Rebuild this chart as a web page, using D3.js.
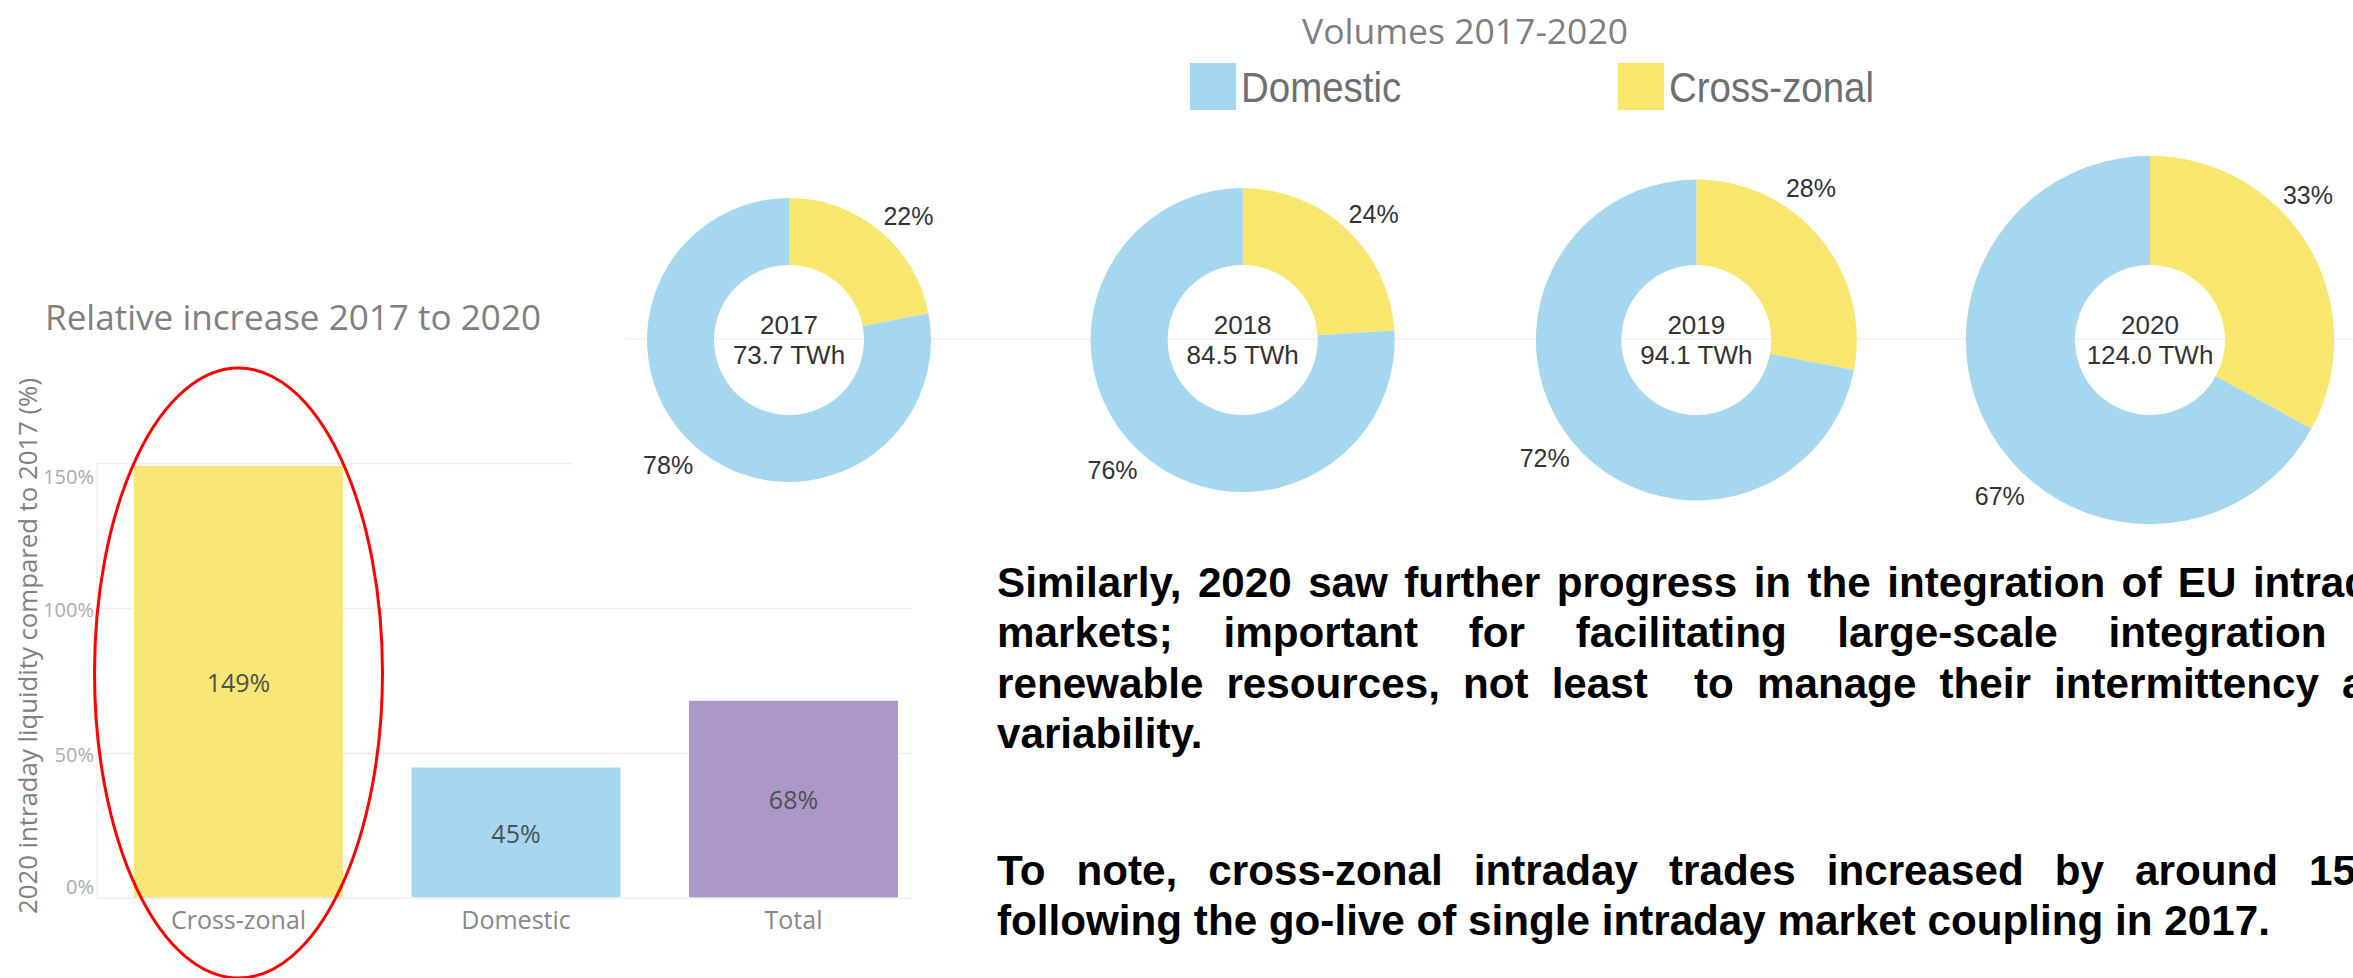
<!DOCTYPE html>
<html>
<head>
<meta charset="utf-8">
<script src="https://cdn.jsdelivr.net/npm/d3@7"></script>
<style>
  html, body { margin: 0; padding: 0; background: #fff; overflow: hidden; }
  svg { display: block; }
</style>
</head>
<body>
<svg id="chart" width="2353" height="978"></svg>
<script>
// ---- Relative increase of 2020 intraday liquidity compared to 2017 ----
const barCategories = ["Cross-zonal", "Domestic", "Total"];
const barValues = [149, 45, 68];
const barColors = ["#f8e776", "#a5d8f0", "#ac98c8"];
const yTickValues = [0, 50, 100, 150];

// ---- Intraday volumes per year and their split ----
const years = ["2017", "2018", "2019", "2020"];
const volumesTWh = [73.7, 84.5, 94.1, 124.0];
const crossZonalShare = [22, 24, 28, 33];
const domesticShare = [78, 76, 72, 67];
const seriesNames = ["Domestic", "Cross-zonal"];
const seriesColors = ["#a5d8f0", "#f8e66f"];

// ---- Commentary ----
const paragraph1 = [
  "Similarly, 2020 saw further progress in the integration of EU intraday",
  "markets; important for facilitating large-scale integration of",
  "renewable resources, not least  to manage their intermittency and",
  "variability."
];
const paragraph2 = [
  "To note, cross-zonal intraday trades increased by around 150%",
  "following the go-live of single intraday market coupling in 2017."
];

// label placement around each ring (degrees clockwise from 12 o'clock)
const crossLabelAngle = [44, 46, 37, 47.5];
const domesticLabelAngle = [224, 225, 232, 224];

const svg = d3.select("#chart");
const tableauFont = "'Open Sans', sans-serif";
const arialFont = "'Liberation Sans', Arial, sans-serif";

// =================== Bar chart ===================
const plotLeft = 97, plotBottom = 898, gridRight = 912;
const y = d3.scaleLinear().domain([0, 150]).range([plotBottom, 463]);
const x = d3.scaleBand().domain(barCategories).range([plotLeft, 935])
  .paddingInner(0.2468).paddingOuter(0.1333);

const bars = svg.append("g").attr("class", "bar-chart");

// gridlines
bars.append("g")
  .attr("transform", `translate(${plotLeft},0)`)
  .call(d3.axisLeft(y).tickValues(yTickValues).tickSize(-(gridRight - plotLeft)).tickFormat(""))
  .call(g => g.select(".domain").remove())
  .call(g => g.selectAll(".tick line").attr("stroke", "#eeeeee").attr("stroke-width", 1.5));

// faint vertical axis line
bars.append("line")
  .attr("x1", plotLeft).attr("x2", plotLeft)
  .attr("y1", y(150)).attr("y2", plotBottom)
  .attr("stroke", "#f0f0f0").attr("stroke-width", 1.5);

// y tick labels (edge labels are kept inside the plot range)
bars.append("g")
  .attr("transform", `translate(${plotLeft - 3},0)`)
  .call(d3.axisLeft(y).tickValues(yTickValues).tickSize(0).tickPadding(0).tickFormat(d => d + "%"))
  .call(g => g.select(".domain").remove())
  .call(g => g.selectAll("text")
    .attr("font-family", tableauFont).attr("font-size", 20).attr("fill", "#ababab")
    .attr("dy", null).attr("dominant-baseline", "central")
    .attr("y", d => d === 150 ? 13 : d === 0 ? -12 : 1));

// bars
bars.selectAll("rect.bar")
  .data(barCategories)
  .join("rect")
  .attr("class", "bar")
  .attr("x", d => x(d))
  .attr("width", x.bandwidth())
  .attr("y", (d, i) => y(barValues[i]))
  .attr("height", (d, i) => plotBottom - y(barValues[i]))
  .attr("fill", (d, i) => barColors[i]);

// value labels
bars.selectAll("text.value")
  .data(barCategories)
  .join("text")
  .attr("class", "value")
  .attr("x", d => x(d) + x.bandwidth() / 2)
  .attr("y", (d, i) => (y(barValues[i]) + plotBottom) / 2)
  .attr("text-anchor", "middle")
  .attr("dominant-baseline", "central")
  .attr("font-family", tableauFont).attr("font-size", 25).attr("fill", "#4f4f4f")
  .text((d, i) => barValues[i] + "%");

// category axis
bars.append("g")
  .attr("transform", `translate(0,${plotBottom})`)
  .call(d3.axisBottom(x).tickSize(0).tickPadding(13))
  .call(g => g.select(".domain").attr("stroke", "#f0f0f0").attr("stroke-width", 1.5)
    .attr("d", `M${plotLeft},0H${gridRight}`))
  .call(g => g.selectAll("text")
    .attr("font-family", tableauFont).attr("font-size", 25).attr("fill", "#888888"));

// axis title
bars.append("text")
  .attr("transform", "translate(27,646) rotate(-90)")
  .attr("text-anchor", "middle")
  .attr("dominant-baseline", "central")
  .attr("font-family", tableauFont).attr("font-size", 26).attr("fill", "#808080")
  .attr("textLength", 536).attr("lengthAdjust", "spacingAndGlyphs")
  .text("2020 intraday liquidity compared to 2017 (%)");

// chart title
bars.append("text")
  .attr("x", 45).attr("y", 330)
  .attr("font-family", tableauFont).attr("font-size", 34.5).attr("fill", "#808080")
  .attr("textLength", 496).attr("lengthAdjust", "spacingAndGlyphs")
  .text("Relative increase 2017 to 2020");

// highlight around the cross-zonal bar
bars.append("ellipse")
  .attr("cx", x("Cross-zonal") + x.bandwidth() / 2).attr("cy", 673)
  .attr("rx", 144).attr("ry", 305)
  .attr("fill", "none").attr("stroke", "#ff0000").attr("stroke-width", 3);

// =================== Donut panel ===================
const panel = svg.append("g").attr("class", "donuts");
panel.append("rect")
  .attr("x", 572).attr("y", 0).attr("width", 2353 - 572).attr("height", 545)
  .attr("fill", "#ffffff");

const donutCY = 340;
panel.append("line")
  .attr("x1", 626).attr("x2", 2353).attr("y1", donutCY - 1).attr("y2", donutCY - 1)
  .attr("stroke", "#f4f4f4").attr("stroke-width", 2);

const cx = d3.scalePoint().domain(years).range([789, 2150]);
const rOuter = d3.scaleSqrt().domain([0, volumesTWh[0]]).range([0, 142]);
const rInner = 75;
const pie = d3.pie().sort(null).value(d => d.value);
const colorOf = d3.scaleOrdinal().domain(seriesNames).range(seriesColors);
const polar = (deg, dist) => [Math.sin(deg * Math.PI / 180) * dist, -Math.cos(deg * Math.PI / 180) * dist];

years.forEach((yr, i) => {
  const R = rOuter(volumesTWh[i]);
  const g = panel.append("g").attr("transform", `translate(${cx(yr)},${donutCY})`);
  const slices = pie([
    { key: "Cross-zonal", value: crossZonalShare[i] },
    { key: "Domestic", value: domesticShare[i] }
  ]);
  const arc = d3.arc().innerRadius(rInner).outerRadius(R);
  g.selectAll("path").data(slices).join("path")
    .attr("d", arc)
    .attr("fill", d => colorOf(d.data.key));

  // percentage labels outside the ring
  const [lx1, ly1] = polar(crossLabelAngle[i], R + 30);
  const [lx2, ly2] = polar(domesticLabelAngle[i], R + 32);
  g.append("text").attr("x", lx1).attr("y", ly1)
    .attr("text-anchor", "middle").attr("dominant-baseline", "central")
    .attr("font-family", arialFont).attr("font-size", 25).attr("fill", "#333333")
    .text(crossZonalShare[i] + "%");
  g.append("text").attr("x", lx2).attr("y", ly2)
    .attr("text-anchor", "middle").attr("dominant-baseline", "central")
    .attr("font-family", arialFont).attr("font-size", 25).attr("fill", "#333333")
    .text(domesticShare[i] + "%");

  // year and volume in the centre
  g.append("text").attr("y", -6).attr("text-anchor", "middle")
    .attr("font-family", arialFont).attr("font-size", 26).attr("fill", "#333333")
    .text(yr);
  g.append("text").attr("y", 24).attr("text-anchor", "middle")
    .attr("font-family", arialFont).attr("font-size", 26).attr("fill", "#333333")
    .text(volumesTWh[i].toFixed(1) + " TWh");
});

// panel title
panel.append("text")
  .attr("x", 1302).attr("y", 44)
  .attr("font-family", tableauFont).attr("font-size", 35).attr("fill", "#7f7f7f")
  .attr("textLength", 326).attr("lengthAdjust", "spacingAndGlyphs")
  .text("Volumes 2017-2020");

// legend
const legendX = d3.scaleOrdinal().domain(seriesNames).range([1190, 1618]);
seriesNames.forEach(name => {
  panel.append("rect")
    .attr("x", legendX(name)).attr("y", 63).attr("width", 46).attr("height", 47)
    .attr("fill", colorOf(name));
  const t = panel.append("text")
    .attr("x", legendX(name) + 51).attr("y", 101.5)
    .attr("font-family", arialFont).attr("font-size", 42).attr("fill", "#6f6f6f")
    .text(name);
  const natural = t.node().getComputedTextLength();
  t.attr("textLength", natural * 0.915).attr("lengthAdjust", "spacingAndGlyphs");
});

// =================== Commentary text ===================
const textLeft = 997, textWidth = 1420, lineStep = 50.4;
const notes = svg.append("g")
  .attr("font-family", arialFont).attr("font-weight", "bold")
  .attr("font-size", 42.2).attr("fill", "#000000");

function drawLine(text, yPos, justify) {
  const t = notes.append("text").attr("x", textLeft).attr("y", yPos);
  if (!justify) { t.text(text); return; }
  const tokens = text.split(" ");
  const widths = tokens.map(tok => {
    if (!tok) return 0;
    t.text(tok);
    return t.node().getComputedTextLength();
  });
  t.text(null);
  const gap = (textWidth - d3.sum(widths)) / (tokens.length - 1);
  let pos = textLeft;
  tokens.forEach((tok, i) => {
    if (tok) t.append("tspan").attr("x", pos).text(tok);
    pos += widths[i] + gap;
  });
}

paragraph1.forEach((line, i) => drawLine(line, 597 + i * lineStep, i < paragraph1.length - 1));
paragraph2.forEach((line, i) => drawLine(line, 885 + i * lineStep, i < paragraph2.length - 1));
</script>
</body>
</html>
